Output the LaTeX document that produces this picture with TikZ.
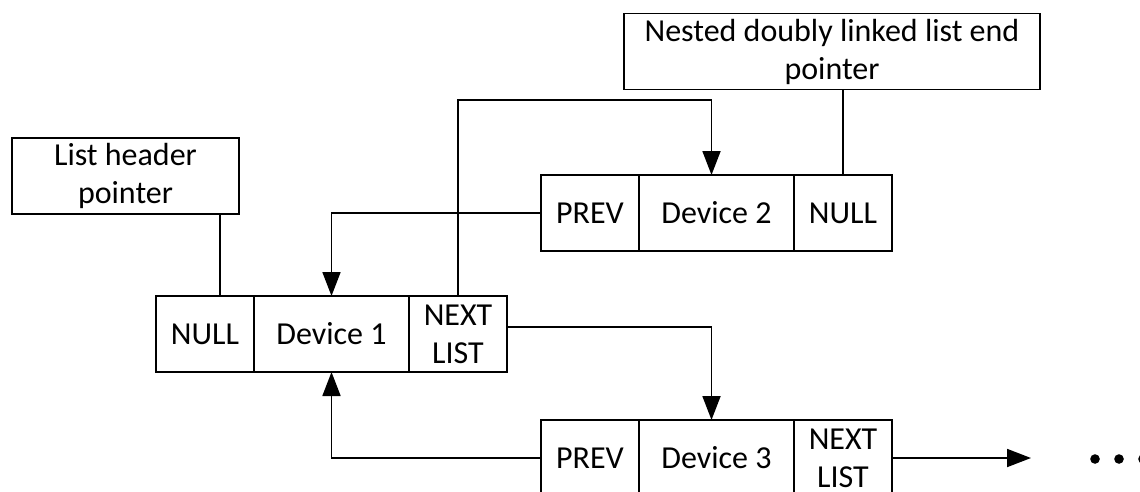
\documentclass[tikz,border=0pt]{standalone}
\usepackage{fontspec}
\setmainfont{Carlito}
\usetikzlibrary{arrows.meta,positioning}

\begin{document}
\begin{tikzpicture}[x=1pt,y=-1pt,
  line width=1.8pt,
  font=\fontsize{32}{38}\selectfont,
  cell/.style={draw, rectangle, inner sep=0pt, outer sep=0pt, minimum height=76pt, align=center},
  small/.style={cell, minimum width=98pt},
  wide/.style={cell, minimum width=155pt},
  oneline/.style={text height=20.6pt, text depth=0pt},
  ptrbox/.style={draw, rectangle, inner sep=0pt, minimum height=76pt, align=center},
  link/.style={-{Triangle[length=24pt,width=18pt]}}]
\useasboundingbox (0,0) rectangle (1140,491);

% pointer boxes
\node[ptrbox, minimum width=227pt] (hdr) at (125.5,176) {List header\\pointer};
\node[ptrbox, minimum width=416pt] (nest) at (832,51.5) {Nested doubly linked list end\\pointer};

% first device
\node[small, oneline] (d1null) at (205,334) {NULL};
\node[wide, oneline, right=0pt of d1null] (d1dev) {Device 1};
\node[small, right=0pt of d1dev] (d1next) {NEXT\\LIST};

% nested device
\node[small, oneline] (d2prev) at (590,213) {PREV};
\node[wide, oneline, right=0pt of d2prev] (d2dev) {Device 2};
\node[small, oneline, right=0pt of d2dev] (d2null) {NULL};

% next device
\node[small, oneline] (d3prev) at (590,458) {PREV};
\node[wide, oneline, right=0pt of d3prev] (d3dev) {Device 3};
\node[small, right=0pt of d3dev] (d3next) {NEXT\\LIST};

% pointers
\draw ([xshift=94.5pt]hdr.south) -- ([xshift=94.5pt]hdr.south |- d1null.north);
\draw (d2null.north) -- (d2null.north |- nest.south);

% links
\draw[link] (d2prev.west) -| (d1dev.north);
\draw[link] (d1next.north) -- ++(0,-196) -| ([xshift=-5pt]d2dev.north);
\draw[link] ([yshift=7pt]d1next.east) -| ([xshift=-5pt]d3dev.north);
\draw[link] (d3prev.west) -| (d1dev.south);
\draw[link] (d3next.east) -- ++(139,0);

\foreach \x in {1095,1119,1143}
  \fill (\x,459) circle (4.8pt);
\end{tikzpicture}
\end{document}
